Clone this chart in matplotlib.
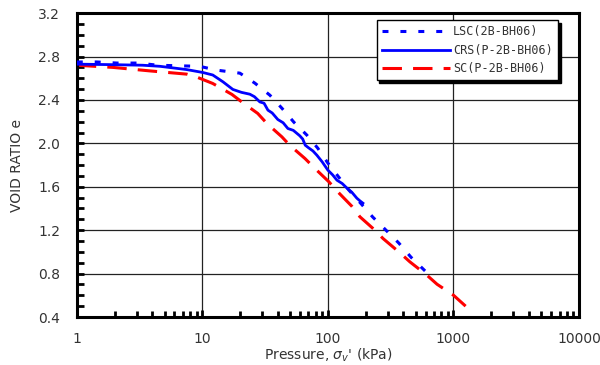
import numpy as np
import matplotlib
matplotlib.use("Agg")
import matplotlib.pyplot as plt
from matplotlib.ticker import FixedLocator, NullFormatter

# LSC(2B-BH06) - blue short dashes
lsc_p = [1, 1.44, 2.1, 3.1, 4.4, 6.4, 9.5, 13, 19.9, 26.2, 34.5, 43, 53.6, 68,
         83, 100, 122, 147, 185, 228, 285, 368, 459, 600]
lsc_e = [2.75, 2.75, 2.74, 2.74, 2.72, 2.715, 2.71, 2.675, 2.647, 2.555, 2.444,
         2.324, 2.195, 2.076, 1.956, 1.818, 1.689, 1.569, 1.44, 1.32, 1.209,
         1.08, 0.951, 0.82]

# CRS(P-2B-BH06) - blue solid, slightly jagged
crs_p = [1, 2, 3.35, 4.6, 7.5, 10.1, 12.1, 14.6, 17.5, 20.5, 23.9, 26, 28.7,
         31, 33.3, 36, 39.9, 44, 48, 53, 59.7, 63, 66, 70, 76, 81.7, 90, 100,
         109, 118, 130, 142, 155, 170, 180, 190]
crs_e = [2.73, 2.725, 2.72, 2.71, 2.68, 2.653, 2.63, 2.567, 2.497, 2.47, 2.453,
         2.43, 2.382, 2.37, 2.306, 2.28, 2.22, 2.19, 2.137, 2.12, 2.07, 2.04,
         1.983, 1.96, 1.93, 1.891, 1.83, 1.753, 1.71, 1.661, 1.63, 1.587,
         1.55, 1.495, 1.47, 1.449]

# SC(P-2B-BH06) - red long dashes
sc_p = [1, 1.94, 3.8, 7.5, 9.2, 12.1, 17.2, 20.6, 27.6, 32.7, 43, 49.6, 65.6,
        78.8, 102, 120, 155, 180, 237, 275, 375, 450, 615, 740, 1000, 1250]
sc_e = [2.72, 2.70, 2.668, 2.638, 2.607, 2.552, 2.451, 2.382, 2.276, 2.183,
        2.06, 1.983, 1.861, 1.769, 1.645, 1.553, 1.421, 1.323, 1.2, 1.123,
        0.991, 0.908, 0.785, 0.702, 0.601, 0.50]

x_major = [1, 10, 100, 1000, 10000]
x_labels = ["1", "10", "100", "1000", "10000"]
y_major = [0.4, 0.8, 1.2, 1.6, 2.0, 2.4, 2.8, 3.2]

plt.rcParams["lines.scale_dashes"] = False
plt.rcParams["font.family"] = ["DejaVu Sans"]

fig = plt.figure(figsize=(6, 3.65), dpi=100)
ax = fig.add_axes([0.128, 0.1315, 0.837, 0.8325])

ax.plot(lsc_p, lsc_e, color="#0000ff", lw=2.2, linestyle=(0, (4.3, 8.6)),
        label="LSC(2B-BH06)", zorder=3)
ax.plot(crs_p, crs_e, color="#0000ff", lw=2.0, label="CRS(P-2B-BH06)", zorder=4)
ax.plot(sc_p, sc_e, color="#ff0000", lw=2.2, linestyle=(0, (14, 8)),
        label="SC(P-2B-BH06)", zorder=2)

ax.set_xscale("log")
ax.set_xlim(1, 10000)
ax.set_ylim(0.4, 3.2)

ax.xaxis.set_major_locator(FixedLocator(x_major))
ax.set_xticklabels(x_labels)
minors = [m * d for d in [1, 10, 100, 1000] for m in range(2, 10)]
ax.xaxis.set_minor_locator(FixedLocator(minors))
ax.xaxis.set_minor_formatter(NullFormatter())
ax.set_yticks(y_major)
ax.set_yticklabels([f"{v:.1f}" for v in y_major])
ax.yaxis.set_minor_locator(FixedLocator(np.arange(0.5, 3.2, 0.1)))

ax.tick_params(axis="both", which="both", direction="in", width=2,
               colors="black", labelcolor="#333333", labelsize=10)
ax.tick_params(axis="y", which="both", length=5, pad=12)
ax.tick_params(axis="x", which="major", length=5, pad=11)
ax.tick_params(axis="x", which="minor", length=4)
ax.tick_params(top=False, right=False, which="both")

ax.grid(True, which="major", color="#222222", lw=0.9)
for s in ax.spines.values():
    s.set_linewidth(2.2)

ax.set_ylabel("VOID RATIO e", fontsize=10, color="#333333", labelpad=10)
ax.set_xlabel(r"Pressure, $\sigma_v$' (kPa)", fontsize=10, color="#333333",
              labelpad=0)

leg = ax.legend(loc="upper right", bbox_to_anchor=(0.958, 0.977),
                prop={"family": "DejaVu Sans Mono", "size": 8.5},
                frameon=True, fancybox=False, shadow={"color": "black", "alpha": 1},
                edgecolor="black", handlelength=5.8, handletextpad=0.2,
                labelspacing=0.45, borderpad=0.45, borderaxespad=0)
leg.get_frame().set_linewidth(1)
for t in leg.get_texts():
    t.set_color("#333333")

fig.savefig("out.png", dpi=100)
